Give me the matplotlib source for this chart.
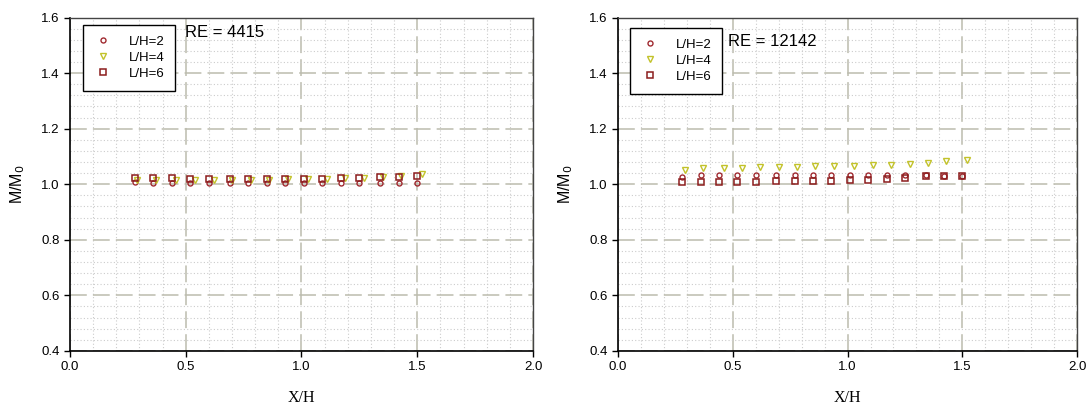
import matplotlib.pyplot as plt
from matplotlib.ticker import MultipleLocator

# x/H positions (L/H=2 and L/H=6 share positions, L/H=4 sits slightly to the right)
x_pos = [0.28, 0.36, 0.44, 0.52, 0.60, 0.69, 0.77, 0.85, 0.93, 1.01, 1.09, 1.17, 1.25, 1.34, 1.42, 1.50]
x_pos4 = [0.29, 0.37, 0.46, 0.54, 0.62, 0.70, 0.78, 0.86, 0.94, 1.03, 1.11, 1.19, 1.27, 1.35, 1.43, 1.52]

# RE = 4415
re1_lh2 = [1.008, 1.006, 1.005, 1.005, 1.004, 1.004, 1.004, 1.004, 1.004, 1.004, 1.004, 1.004, 1.004, 1.004, 1.004, 1.004]
re1_lh4 = [1.015, 1.015, 1.015, 1.016, 1.016, 1.016, 1.017, 1.017, 1.018, 1.019, 1.020, 1.022, 1.024, 1.027, 1.031, 1.038]
re1_lh6 = [1.022, 1.021, 1.021, 1.020, 1.020, 1.020, 1.020, 1.020, 1.020, 1.020, 1.020, 1.021, 1.022, 1.025, 1.027, 1.029]

# RE = 12142
re2_lh2 = [1.025, 1.032, 1.032, 1.032, 1.032, 1.032, 1.033, 1.033, 1.034, 1.034, 1.034, 1.033, 1.032, 1.032, 1.031, 1.030]
re2_lh4 = [1.050, 1.058, 1.059, 1.060, 1.061, 1.062, 1.063, 1.064, 1.065, 1.067, 1.069, 1.071, 1.074, 1.078, 1.082, 1.087]
re2_lh6 = [1.008, 1.008, 1.008, 1.009, 1.009, 1.010, 1.011, 1.011, 1.012, 1.014, 1.016, 1.019, 1.024, 1.028, 1.030, 1.031]

plt.rcParams['font.family'] = ['Liberation Sans', 'DejaVu Sans']

fig = plt.figure(figsize=(10.88, 4.09), dpi=100)
ax1 = fig.add_axes([0.0643, 0.142, 0.4256, 0.815])
ax2 = fig.add_axes([0.568, 0.142, 0.4220, 0.815])


def draw(ax, lh2, lh4, lh6, re_text, leg_xy, re_xy):
    ax.plot(x_pos, lh2, 'o', ls='none', ms=3.6, mfc='none', mec='#a02a30', mew=1.0, label='L/H=2')
    ax.plot(x_pos4, lh4, 'v', ls='none', ms=4.0, mfc='none', mec='#c2c22a', mew=1.0, label='L/H=4')
    ax.plot(x_pos, lh6, 's', ls='none', ms=3.8, mfc='none', mec='#8c1c1c', mew=1.1, label='L/H=6')
    ax.set_xlim(0, 2.0)
    ax.set_ylim(0.4, 1.6)
    ax.xaxis.set_major_locator(MultipleLocator(0.5))
    ax.xaxis.set_minor_locator(MultipleLocator(0.1))
    ax.yaxis.set_major_locator(MultipleLocator(0.2))
    ax.yaxis.set_minor_locator(MultipleLocator(0.04))
    ax.grid(which='minor', color='#cccccc', lw=0.8, ls=(0, (1, 2)))
    ax.grid(which='major', color='#bcbcae', lw=1.1, ls=(0, (11, 4)))
    ax.set_axisbelow(True)
    ax.tick_params(which='major', direction='out', length=4, width=1, labelsize=9.5,
                   top=False, right=False, colors='black')
    ax.tick_params(which='minor', length=0)
    ax.xaxis.set_major_formatter(plt.FormatStrFormatter('%.1f'))
    ax.yaxis.set_major_formatter(plt.FormatStrFormatter('%.1f'))
    for s in ['left', 'bottom']:
        ax.spines[s].set_color('black')
        ax.spines[s].set_linewidth(1.2)
    for s in ['top', 'right']:
        ax.spines[s].set_color('#444444')
        ax.spines[s].set_linewidth(1.0)
    ax.set_ylabel('M/M$_0$', fontsize=11.5, labelpad=10)
    ax.set_xlabel('X/H', fontsize=11.5, family='Liberation Serif', labelpad=12)
    leg = ax.legend(loc='upper left', bbox_to_anchor=leg_xy, fontsize=9.5, frameon=True,
                    fancybox=False, edgecolor='black', framealpha=1, handletextpad=1.2,
                    borderpad=0.8, labelspacing=0.3, handlelength=1.5, borderaxespad=0)
    leg.get_frame().set_linewidth(1.0)
    ax.text(re_xy[0], re_xy[1], re_text, transform=ax.transAxes, fontsize=12,
            ha='left', va='center')


draw(ax1, re1_lh2, re1_lh4, re1_lh6, 'RE = 4415', (0.028, 0.978), (0.248, 0.955))
draw(ax2, re2_lh2, re2_lh4, re2_lh6, 'RE = 12142', (0.026, 0.969), (0.239, 0.928))

fig.savefig('out.png', dpi=100)
